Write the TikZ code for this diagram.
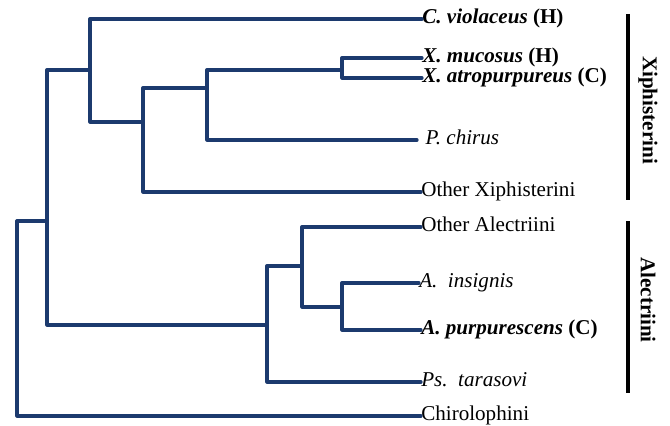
\documentclass[tikz,border=0pt]{standalone}
\usepackage{fontspec}
\setmainfont{Liberation Serif}
\usepackage{xcolor}
\usetikzlibrary{positioning}
\definecolor{branchblue}{HTML}{1C3A6E}

\begin{document}
\begin{tikzpicture}[x=0.025cm,y=-0.025cm,
    branch/.style={draw=branchblue,line width=2.3pt,line cap=round,line join=round},
    leaf/.style={anchor=west,inner sep=0pt,font=\fontsize{15}{18}\selectfont,
        text height=1.6ex,text depth=.3ex},
    tribebar/.style={draw=black,line width=3pt},
    tribe/.style={rotate=-90,font=\fontsize{15}{18}\selectfont\bfseries,inner sep=0pt}]
    \useasboundingbox (0,0) rectangle (670,426);
    % leaves
    \node[leaf] (cv) at (422,19) {\textbf{\textit{C. violaceus} (H)}};
    \node[leaf] (xm) at (422,58) {\textbf{\textit{X. mucosus} (H)}};
    \node[leaf] (xa) at (422,78) {\textbf{\textit{X. atropurpureus} (C)}};
    \node[leaf,inner xsep=0pt] (pc) at (417,140) {\hspace{15\pgflinewidth}\textit{P. chirus}};
    \node[leaf] (ox) at (421,192) {Other Xiphisterini};
    \node[leaf] (oa) at (421,227) {Other Alectriini};
    \node[leaf] (ai) at (419,283) {\textit{A.\ \ insignis}};
    \node[leaf] (ap) at (421,330) {\textbf{\textit{A. purpurescens} (C)}};
    \node[leaf] (pt) at (421,382) {\textit{Ps.\ \ tarasovi}};
    \node[leaf] (ch) at (421,416) {Chirolophini};
    % internal nodes
    \coordinate (r)  at (17,221);
    \coordinate (n1) at (47,221);
    \coordinate (n2) at (90,70);
    \coordinate (n3) at (143,122);
    \coordinate (n4) at (207,88);
    \coordinate (n5) at (342,70);
    \coordinate (n6) at (267,325);
    \coordinate (n7) at (302,266);
    \coordinate (n8) at (342,307);
    % branches
    \draw[branch] (r) -- (n1);
    \draw[branch] (r) |- (ch.west);
    \draw[branch] (n1) |- (n2);
    \draw[branch] (n1) |- (n6);
    \draw[branch] (n2) |- (cv.west);
    \draw[branch] (n2) |- (n3);
    \draw[branch] (n3) |- (n4);
    \draw[branch] (n3) |- (ox.west);
    \draw[branch] (n4) |- (n5);
    \draw[branch] (n4) |- (pc.west);
    \draw[branch] (n5) |- (xm.west);
    \draw[branch] (n5) |- (xa.west);
    \draw[branch] (n6) |- (n7);
    \draw[branch] (n6) |- (pt.west);
    \draw[branch] (n7) |- (oa.west);
    \draw[branch] (n7) |- (n8);
    \draw[branch] (n8) |- (ai.west);
    \draw[branch] (n8) |- (ap.west);
    % tribes
    \coordinate (xtop) at (628,14);
    \coordinate (xbot) at (628,200);
    \coordinate (atop) at (628,221);
    \coordinate (abot) at (628,393);
    \draw[tribebar] (xtop) -- (xbot);
    \draw[tribebar] (atop) -- (abot);
    \node[tribe] (xiph) at (648,110) {Xiphisterini};
    \node[tribe] (alec) at (648,300) {Alectriini};
\end{tikzpicture}
\end{document}
